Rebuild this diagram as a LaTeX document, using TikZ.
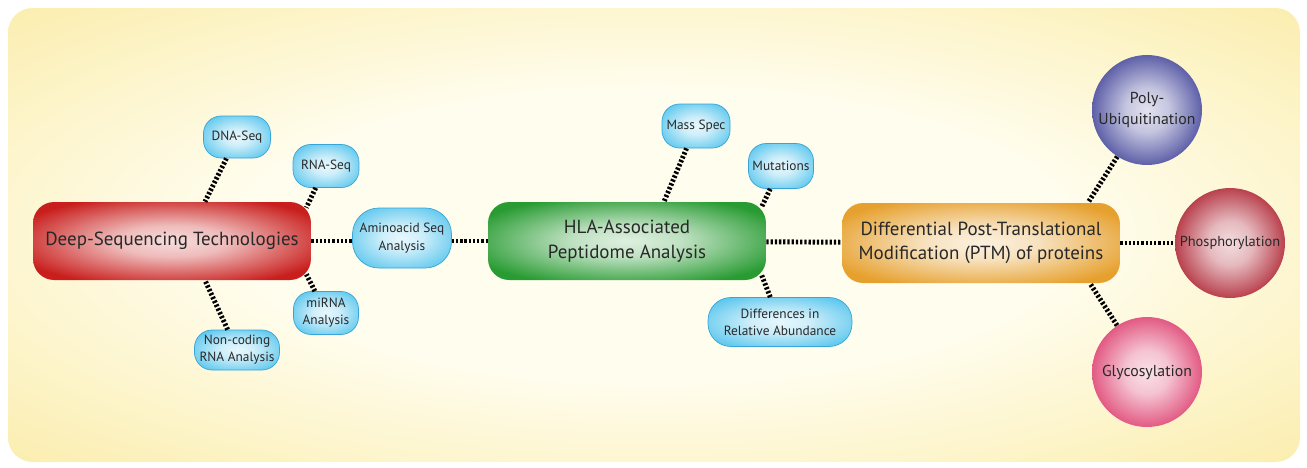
\documentclass[tikz,border=0pt]{standalone}
\usepackage{fontspec}
\setmainfont{PT Sans}
\definecolor{PaleCream}{RGB}{255,253,238}
\definecolor{SoftYellow}{RGB}{250,234,160}
\definecolor{BrickRed}{RGB}{200,30,28}
\definecolor{LeafGreen}{RGB}{40,155,50}
\definecolor{Amber}{RGB}{230,160,45}
\definecolor{SkyCyan}{RGB}{95,200,238}
\definecolor{SkyEdge}{RGB}{55,165,215}
\definecolor{SlateBlue}{RGB}{60,62,150}
\definecolor{Crimson}{RGB}{170,25,40}
\definecolor{RosePink}{RGB}{220,55,105}
\definecolor{InkGray}{RGB}{40,40,40}
\pgfdeclareradialshading[glowtone]{glow}{\pgfpointorigin}{color(0bp)=(white!85!glowtone); color(10bp)=(white!70!glowtone); color(30bp)=(glowtone); color(50bp)=(glowtone)}
\pgfdeclareradialshading[glowtone]{backglow}{\pgfpointorigin}{color(0bp)=(PaleCream); color(16bp)=(PaleCream); color(40bp)=(glowtone); color(50bp)=(glowtone)}

\begin{document}
\begin{tikzpicture}[x=0.02cm, y=-0.02cm,
    tone/.code={\colorlet{glowtone}{#1}},
    hub/.style={rectangle, rounded corners=12pt, minimum width=5.56cm, minimum height=1.56cm, shade, shading=glow, tone=#1, align=center, text=InkGray, font=\fontsize{10.8}{14}\selectfont},
    leaf/.style={rectangle, rounded corners=10pt, draw=SkyEdge, line width=0.4pt, shade, shading=glow, tone=SkyCyan, inner sep=0pt, align=center, text=InkGray, font=\fontsize{7.6}{9.8}\selectfont},
    ball/.style={circle, minimum size=2.2cm, inner sep=0pt, shade, shading=glow, tone=#1, align=center, text=InkGray, font=\fontsize{9}{11.5}\selectfont},
    link/.style={line width=2.8pt, dash pattern=on 1.3pt off 1.1pt, black}
  ]
    \useasboundingbox (0,0) rectangle (1307,467);
    \shade[shading=backglow, tone=SoftYellow, rounded corners=14pt] (8,8) rectangle (1300,462);

    % main boxes
    \node[hub=BrickRed] (deep) at (172,241) {Deep-Sequencing Technologies};
    \node[hub=LeafGreen] (hla) at (627,241) {HLA-Associated\\Peptidome Analysis};
    \node[hub=Amber, minimum height=1.6cm] (ptm) at (981,243) {Differential Post-Translational\\Modification (PTM) of proteins};

    % small bubbles
    \node[leaf, minimum width=1.34cm, minimum height=0.84cm] (dna) at (237,137) {DNA-Seq};
    \node[leaf, minimum width=1.32cm, minimum height=0.86cm] (rna) at (326,166) {RNA-Seq};
    \node[leaf, minimum width=1.98cm, minimum height=1.2cm, rounded corners=15pt] (amino) at (402,238) {Aminoacid Seq\\Analysis};
    \node[leaf, minimum width=1.3cm, minimum height=0.86cm] (mirna) at (326,313) {miRNA\\Analysis};
    \node[leaf, minimum width=1.7cm, minimum height=0.8cm] (noncod) at (237,350) {Non-coding\\RNA Analysis};
    \node[leaf, minimum width=1.36cm, minimum height=0.88cm] (mass) at (696,126) {Mass Spec};
    \node[leaf, minimum width=1.3cm, minimum height=0.9cm] (mut) at (781,166) {Mutations};
    \node[leaf, minimum width=2.88cm, minimum height=0.98cm, rounded corners=13pt] (diff) at (780,322) {Differences in\\Relative Abundance};

    % PTM circles
    \node[ball=SlateBlue] (poly) at (1147,110) {Poly-\\Ubiquitination};
    \node[ball=Crimson, font=\fontsize{8.2}{10}\selectfont] (phos) at (1230,243) {Phosphorylation};
    \node[ball=RosePink] (glyco) at (1147,372) {Glycosylation};

    % connectors
    \draw[link] (dna) -- ([xshift=0.66cm]deep.north);
    \draw[link] (rna) -- ([xshift=-0.1cm, yshift=-0.12cm]deep.north east);
    \draw[link] (mirna) -- ([xshift=-0.1cm, yshift=0.12cm]deep.south east);
    \draw[link] (noncod) -- ([xshift=0.66cm]deep.south);
    \draw[link] (deep) -- (deep -| amino.west);
    \draw[link] (amino.east |- hla) -- (hla);
    \draw[link] (mass) -- ([xshift=0.74cm]hla.north);
    \draw[link] (mut) -- ([xshift=-0.1cm, yshift=-0.12cm]hla.north east);
    \draw[link] (diff) -- ([xshift=-0.1cm, yshift=0.12cm]hla.south east);
    \draw[link] (hla) -- (ptm);
    \draw[link] (poly) -- ([xshift=2.14cm]ptm.north);
    \draw[link] (ptm) -- (phos);
    \draw[link] (glyco) -- ([xshift=2.18cm]ptm.south);
\end{tikzpicture}
\end{document}
